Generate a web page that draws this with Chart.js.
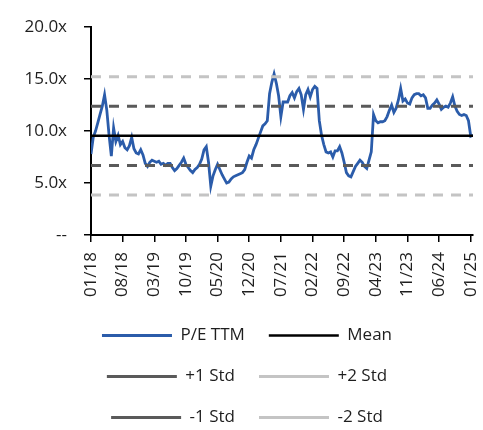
<!DOCTYPE html>
<html>
<head>
    <title>P/E TTM</title>
    <style>
        html, body { margin: 0; padding: 0; background: #fff; overflow: hidden; }
        #wrap { width: 483px; height: 436px; }
    </style>
</head>
<body>
    <div id="wrap"><canvas id="peChart"></canvas></div>

    <script src="https://cdn.jsdelivr.net/npm/chart.js"></script>
    <script>
        // P/E TTM, one value every half month starting 01/2018
        const stepMonths = 0.5;
        const peTTM = [
            7.8, 9.4, 10.0, 10.8, 11.6, 12.4, 13.5, 12.0, 9.6, 7.6,
            10.3, 9.0, 9.6, 8.7, 9.0, 8.4, 8.2, 8.6, 9.4, 8.3,
            7.9, 7.8, 8.2, 7.7, 6.9, 6.6, 7.0, 7.2, 7.1, 7.0,
            7.1, 6.8, 6.9, 6.7, 6.9, 6.9, 6.5, 6.2, 6.4, 6.7,
            7.0, 7.4, 6.8, 6.5, 6.2, 6.0, 6.3, 6.5, 6.8, 7.3,
            8.2, 8.5, 7.0, 4.7, 5.7, 6.3, 6.8, 6.3, 5.8, 5.4,
            5.0, 5.1, 5.4, 5.6, 5.7, 5.8, 5.9, 6.0, 6.3, 7.0,
            7.6, 7.4, 8.2, 8.7, 9.3, 9.9, 10.5, 10.7, 11.0, 13.6,
            14.7, 15.5, 14.6, 13.4, 11.4, 12.8, 12.8, 12.8, 13.4, 13.7,
            13.2, 13.8, 14.1, 13.5, 12.1, 13.5, 14.0, 13.3, 14.0, 14.3,
            14.1, 11.0, 9.6, 8.7, 8.0, 7.9, 8.0, 7.5, 8.1, 8.1,
            8.5, 7.9, 7.0, 6.0, 5.7, 5.6, 6.1, 6.6, 6.9, 7.2,
            7.0, 6.6, 6.4, 7.2, 8.0, 11.6, 11.0, 10.8, 10.9, 10.9,
            11.0, 11.4, 12.0, 12.5, 11.8, 12.2, 13.0, 14.1, 12.9, 13.1,
            12.7, 12.6, 13.2, 13.5, 13.6, 13.6, 13.4, 13.5, 13.2, 12.2,
            12.2, 12.5, 12.7, 13.0, 12.6, 12.1, 12.3, 12.4, 12.3, 12.7,
            13.3, 12.4, 11.9, 11.6, 11.5, 11.6, 11.5, 11.0, 9.5, 9.6
        ];

        const bandLabels = ['Mean', '+1 Std', '+2 Std', '-1 Std', '-2 Std'];
        const bandValues = [9.55, 12.4, 15.22, 6.7, 3.85];

        const xTickLabels = ['01/18', '08/18', '03/19', '10/19', '05/20', '12/20', '07/21',
                             '02/22', '09/22', '04/23', '11/23', '06/24', '01/25'];
        const yTickLabels = ['--', '5.0x', '10.0x', '15.0x', '20.0x'];

        const xEnd = (peTTM.length - 1) * stepMonths;
        const pePoints = peTTM.map((v, i) => ({ x: i * stepMonths, y: v }));
        const flat = v => [{ x: 0, y: v }, { x: xEnd, y: v }];

        const bandStyle = [
            { color: '#000000', dash: [], width: 2.5 },
            { color: '#5a5a5a', dash: [10, 8], width: 3 },
            { color: '#c4c4c4', dash: [10, 8], width: 3 },
            { color: '#5a5a5a', dash: [10, 8], width: 3 },
            { color: '#c4c4c4', dash: [10, 8], width: 3 }
        ];

        const datasets = [{
            label: 'P/E TTM',
            data: pePoints,
            borderColor: '#2b5caa',
            backgroundColor: '#2b5caa',
            borderWidth: 2.8,
            pointRadius: 0,
            tension: 0,
            order: 1
        }];
        bandLabels.forEach((name, i) => {
            datasets.push({
                label: name,
                data: flat(bandValues[i]),
                borderColor: bandStyle[i].color,
                backgroundColor: bandStyle[i].color,
                borderDash: bandStyle[i].dash,
                borderWidth: bandStyle[i].width,
                pointRadius: 0,
                order: 0
            });
        });

        Chart.defaults.font.family = '"Open Sans", sans-serif';
        Chart.defaults.font.size = 17;
        Chart.defaults.color = '#1e1e1e';

        new Chart(document.getElementById('peChart'), {
            type: 'line',
            data: { datasets: datasets },
            options: {
                responsive: true,
                maintainAspectRatio: false,
                animation: false,
                layout: { padding: { left: 21, right: 10, top: 20, bottom: 0 } },
                plugins: {
                    tooltip: { enabled: false },
                    legend: {
                        position: 'bottom',
                        labels: {
                            usePointStyle: true,
                            pointStyle: 'line',
                            pointStyleWidth: 70,
                            padding: 24,
                            color: '#1e1e1e',
                            sort: (a, b) => a.datasetIndex - b.datasetIndex
                        }
                    }
                },
                scales: {
                    x: {
                        type: 'linear',
                        min: 0,
                        max: xEnd,
                        grid: { drawOnChartArea: false, color: '#000', tickLength: 7, lineWidth: 1.5 },
                        border: { color: '#000', width: 2 },
                        ticks: {
                            stepSize: 7,
                            includeBounds: false,
                            minRotation: 90,
                            maxRotation: 90,
                            padding: 10,
                            callback: v => xTickLabels[Math.round(v / 7)]
                        },
                        afterFit: s => { s.height = 68; s.paddingRight = 0; s.paddingLeft = 0; }
                    },
                    y: {
                        min: 0,
                        max: 20,
                        grid: { drawOnChartArea: false, color: '#000', tickLength: 7, lineWidth: 1.5 },
                        border: { color: '#000', width: 2 },
                        ticks: {
                            stepSize: 5,
                            padding: 17,
                            callback: v => yTickLabels[Math.round(v / 5)]
                        },
                        afterFit: s => { s.width = 70; }
                    }
                }
            }
        });
    </script>
</body>
</html>
